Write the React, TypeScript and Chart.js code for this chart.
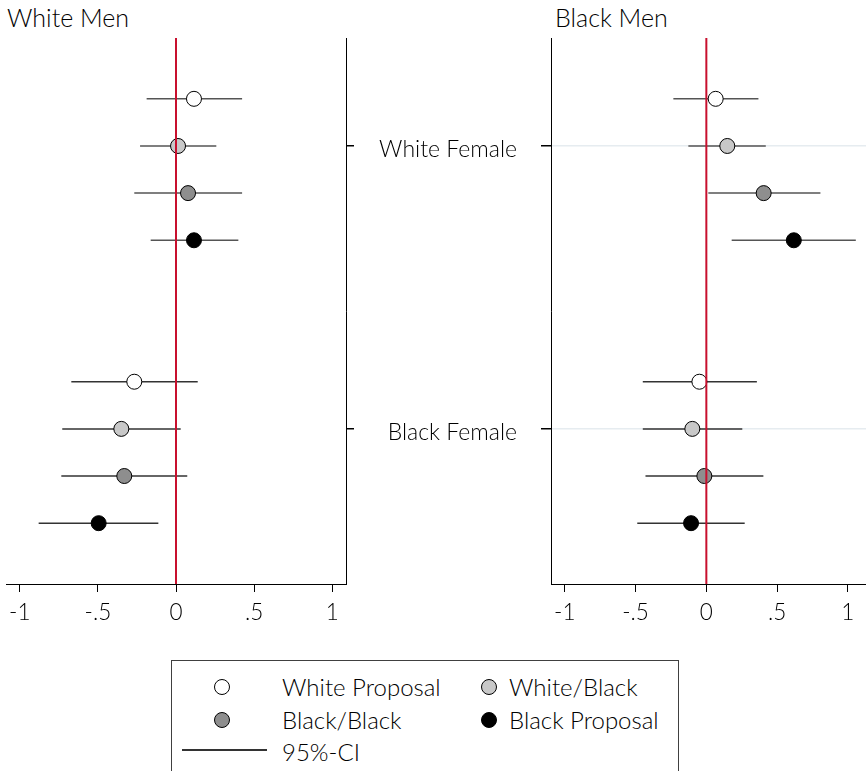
import React, { useEffect, useRef } from 'react';
import { Chart, registerables } from 'chart.js';
Chart.register(...registerables);

const panelTitles = ['White Men', 'Black Men'];
const groupLabels = ['White Female', 'Black Female'];
const seriesNames = ['White Proposal', 'White/Black', 'Black/Black', 'Black Proposal'];
const seriesFill = ['#ffffff', '#c8c8c8', '#8e8e8e', '#000000'];
const xTickValues = [-1, -0.5, 0, 0.5, 1];
const xTickLabels = ['-1', '-.5', '0', '.5', '1'];

// [group][series]
const whiteMenEst = [[0.115, 0.013, 0.077, 0.115], [-0.267, -0.35, -0.331, -0.495]];
const whiteMenLow = [[-0.188, -0.23, -0.267, -0.162], [-0.67, -0.728, -0.734, -0.879]];
const whiteMenHigh = [[0.423, 0.258, 0.423, 0.399], [0.139, 0.03, 0.072, -0.113]];
const blackMenEst = [[0.066, 0.148, 0.405, 0.618], [-0.049, -0.099, -0.014, -0.108]];
const blackMenLow = [[-0.233, -0.127, 0.014, 0.179], [-0.449, -0.449, -0.43, -0.488]];
const blackMenHigh = [[0.368, 0.42, 0.806, 1.056], [0.357, 0.254, 0.403, 0.271]];

const FONT = 'Lato, "Noto Sans", sans-serif';
const WEIGHT = 300;
const Y_MIN = -0.29;
const Y_MAX = 11.29;
const rowPos = (g: number, s: number) => g * 6 + s + 1;
const groupTick = (g: number) => g * 6 + 2;

function buildConfig(est: number[][], low: number[][], high: number[][], side: 'left' | 'right', xMin: number, xMax: number): any {
  const datasets: any[] = [];
  datasets.push({
    label: 'zero',
    data: [{ x: 0, y: Y_MIN }, { x: 0, y: Y_MAX }],
    showLine: true,
    borderColor: '#c8102e',
    borderWidth: 2,
    pointRadius: 0,
    order: 0,
  });
  seriesNames.forEach((name, s) => {
    datasets.push({
      label: name,
      data: groupLabels.map((_, g) => ({ x: est[g][s], y: rowPos(g, s) })),
      showLine: false,
      pointRadius: 7.5,
      pointBackgroundColor: seriesFill[s],
      pointBorderColor: '#000',
      pointBorderWidth: 1,
      order: 1,
    });
  });
  groupLabels.forEach((_, g) => {
    seriesNames.forEach((__, s) => {
      datasets.push({
        label: 'ci',
        data: [{ x: low[g][s], y: rowPos(g, s) }, { x: high[g][s], y: rowPos(g, s) }],
        showLine: true,
        borderColor: g === 0 ? '#555' : '#333',
        borderWidth: 1.5,
        pointRadius: 0,
        order: 2,
      });
    });
  });
  const isLeftAxis = side === 'left';
  return {
    type: 'scatter',
    data: { datasets },
    options: {
      responsive: true,
      maintainAspectRatio: false,
      animation: false,
      events: [],
      layout: { autoPadding: false, padding: { left: isLeftAxis ? 0 : 6, top: 38, right: 0, bottom: 0 } },
      plugins: { legend: { display: false }, tooltip: { enabled: false }, title: { display: false } },
      scales: {
        x: {
          type: 'linear',
          position: 'bottom',
          min: xMin,
          max: xMax,
          afterBuildTicks: (sc: any) => { sc.ticks = xTickValues.map((v) => ({ value: v })); },
          afterFit: (sc: any) => { sc.height = 66; sc.paddingLeft = 0; sc.paddingRight = 0; },
          ticks: {
            autoSkip: false,
            maxRotation: 0,
            padding: 7,
            color: '#000',
            font: { family: FONT, size: 22.5, weight: WEIGHT },
            callback: (v: any) => xTickLabels[xTickValues.indexOf(Number(v))] ?? '',
          },
          grid: { drawOnChartArea: false, drawTicks: true, tickLength: 8, tickColor: '#000', lineWidth: 1 },
          border: { display: true, color: '#000', width: 1 },
        },
        y: {
          type: 'linear',
          position: side,
          reverse: true,
          min: Y_MIN,
          max: Y_MAX,
          afterBuildTicks: (sc: any) => { sc.ticks = groupLabels.map((_, g) => ({ value: groupTick(g) })); },
          afterFit: (sc: any) => { sc.width = isLeftAxis ? 191 : 14; sc.paddingTop = 0; sc.paddingBottom = 0; },
          ticks: {
            display: isLeftAxis,
            padding: 24,
            labelOffset: 4,
            color: '#000',
            font: { family: FONT, size: 23, weight: WEIGHT },
            callback: (v: any) => {
              const g = groupLabels.findIndex((_, i) => groupTick(i) === Number(v));
              return g >= 0 ? groupLabels[g] : '';
            },
          },
          grid: {
            drawOnChartArea: isLeftAxis,
            drawTicks: true,
            tickLength: isLeftAxis ? 10 : 8,
            color: '#e6ecf0',
            lineWidth: 1.5,
            tickColor: '#000',
          },
          border: { display: true, color: '#000', width: 1 },
        },
      },
    },
  };
}

function Panel({ config, left, width }: { config: any; left: number; width: number }) {
  const ref = useRef<HTMLCanvasElement | null>(null);
  useEffect(() => {
    if (!ref.current) return;
    const chart = new Chart(ref.current, config);
    return () => chart.destroy();
  }, []);
  return (
    <div style={{ position: 'absolute', left, top: 0, width, height: 650 }}>
      <canvas ref={ref} />
    </div>
  );
}

const textStyle: React.CSSProperties = {
  position: 'absolute',
  fontFamily: FONT,
  fontWeight: WEIGHT,
  fontSize: 24,
  lineHeight: '26px',
  color: '#000',
  whiteSpace: 'nowrap',
};

function Dot({ cx, cy, fill }: { cx: number; cy: number; fill: string }) {
  return (
    <div
      style={{
        position: 'absolute',
        left: cx - 8,
        top: cy - 8,
        width: 14,
        height: 14,
        borderRadius: '50%',
        border: '1px solid #000',
        background: fill,
      }}
    />
  );
}

export default function App() {
  const leftCfg = buildConfig(whiteMenEst, whiteMenLow, whiteMenHigh, 'right', -1.088, 1.088);
  const rightCfg = buildConfig(blackMenEst, blackMenLow, blackMenHigh, 'left', -1.0975, 1.128);
  const legendItems = [
    { cx: 222, cy: 687, tx: 282 },
    { cx: 489, cy: 687, tx: 509 },
    { cx: 222, cy: 720, tx: 282 },
    { cx: 489, cy: 720, tx: 509 },
  ];
  return (
    <div style={{ position: 'absolute', left: 0, top: 0, width: 866, height: 771, overflow: 'hidden', background: '#fff' }}>
      <div style={{ ...textStyle, fontSize: 25, left: 7, top: 4 }}>{panelTitles[0]}</div>
      <div style={{ ...textStyle, fontSize: 25, left: 555, top: 4 }}>{panelTitles[1]}</div>
      <Panel config={leftCfg} left={0} width={360} />
      <Panel config={rightCfg} left={360} width={506} />
      <div
        style={{
          position: 'absolute',
          left: 171,
          top: 660,
          width: 506,
          height: 130,
          border: '1px solid #404040',
        }}
      />
      {legendItems.map((it, i) => (
        <React.Fragment key={i}>
          <Dot cx={it.cx} cy={it.cy} fill={seriesFill[i]} />
          <div style={{ ...textStyle, left: it.tx, top: it.cy - 13 }}>{seriesNames[i]}</div>
        </React.Fragment>
      ))}
      <div style={{ position: 'absolute', left: 182, top: 749, width: 85, height: 1.5, background: '#333' }} />
      <div style={{ ...textStyle, left: 282, top: 752 - 13 }}>95%-CI</div>
    </div>
  );
}
